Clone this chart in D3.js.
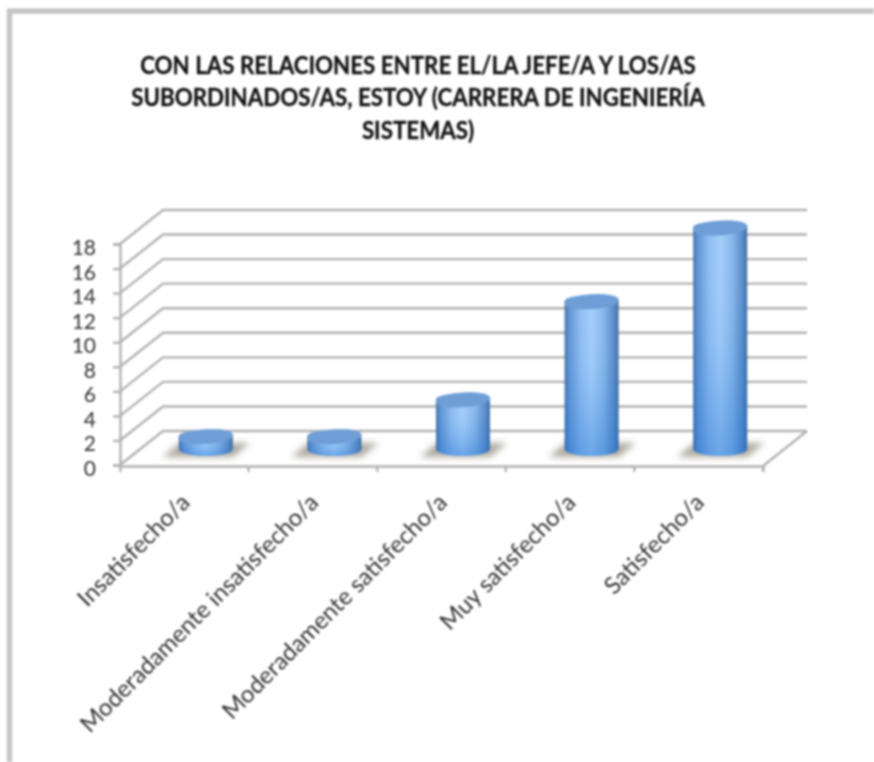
<!DOCTYPE html>
<html><head><meta charset="utf-8">
<script src="https://cdn.jsdelivr.net/npm/d3@7"></script>
<style>
html,body{margin:0;padding:0;background:#fff;overflow:hidden}
svg{display:block;filter:blur(0.8px)}
text{font-family:Lato,"Open Sans",sans-serif}
</style></head><body>
<svg id="c" width="874" height="762"></svg>
<script>
const categories = ["Insatisfecho/a","Moderadamente insatisfecho/a","Moderadamente satisfecho/a","Muy satisfecho/a","Satisfecho/a"];
const values = [1,1,4,12,18];
const yTicks = [0,2,4,6,8,10,12,14,16,18];
const titleLines = ["CON LAS RELACIONES ENTRE EL/LA JEFE/A Y LOS/AS","SUBORDINADOS/AS, ESTOY (CARRERA DE INGENIERÍA","SISTEMAS)"];

const svg = d3.select("#c");
const x = d3.scaleBand().domain(categories).range([120,763]);
const y = d3.scaleLinear().domain([0,18]).range([465,244]);
const depthX = 43, depthY = -34;
const grid = "#b2b2b2";

// Outer frame
svg.append("path").attr("d","M9.5,762V11H874").attr("fill","none").attr("stroke","#c6c6c6").attr("stroke-width",5.5);

// Title
svg.append("g").selectAll("text").data(titleLines).join("text")
  .attr("x",418).attr("y",(d,i)=>74+i*32.5)
  .attr("text-anchor","middle").attr("font-size",24).attr("font-weight",700).attr("fill","#111")
  .attr("stroke","#111").attr("stroke-width",.3)
  .attr("transform-origin","418 0").attr("style","transform:scaleX(.93)")
  .text(d=>d);

// Defs
const defs = svg.append("defs");
const side = defs.append("linearGradient").attr("id","side").attr("x1",0).attr("x2",1).attr("y1",0).attr("y2",0);
[[0,"#3f6fa6"],[.08,"#5f93d3"],[.3,"#8fbdf2"],[.5,"#a3cefb"],[.72,"#86b6ec"],[.92,"#5688c6"],[1,"#3d6c9f"]]
  .forEach(s=>side.append("stop").attr("offset",s[0]).attr("stop-color",s[1]));
const shade = defs.append("linearGradient").attr("id","shade").attr("x1",0).attr("x2",0).attr("y1",0).attr("y2",1);
[[0,"#ffffff",0],[.55,"#2f7fd6",.1],[1,"#1f6fce",.42]]
  .forEach(s=>shade.append("stop").attr("offset",s[0]).attr("stop-color",s[1]).attr("stop-opacity",s[2]));
defs.append("filter").attr("id","soft").attr("x","-30%").attr("y","-80%").attr("width","160%").attr("height","260%")
  .append("feGaussianBlur").attr("stdDeviation",3);

// Walls: gridlines on left wall + back wall
const gridG = svg.append("g").attr("fill","none").attr("stroke",grid).attr("stroke-width",2.4);
gridG.selectAll("path").data(yTicks).join("path")
  .attr("d",d=>{
    const p = d3.path();
    p.moveTo(x.range()[0],y(d));
    p.lineTo(x.range()[0]+depthX,y(d)+depthY);
    p.lineTo(x.range()[1]+depthX+1,y(d)+depthY);
    return p.toString();
  });
// Floor right edge
gridG.append("path").attr("class","edge").attr("d",()=>{
  const p = d3.path();
  p.moveTo(x.range()[1],y(0)+1);
  p.lineTo(x.range()[1]+depthX+1,y(0)+depthY);
  return p.toString();
});

// Axes
const yAxis = d3.axisLeft(y).tickValues(yTicks).tickSize(7).tickPadding(17);
const gy = svg.append("g").attr("transform",`translate(${x.range()[0]},0)`).call(yAxis);
gy.select(".domain").attr("stroke",grid).attr("stroke-width",2.4);
gy.selectAll(".tick line").attr("stroke",grid).attr("stroke-width",2.4);
gy.selectAll(".tick text").attr("font-size",21).attr("font-family","Lato").attr("fill","#333").attr("dy","0.5em");

const xAxis = d3.axisBottom(x).tickSize(6).tickSizeOuter(6).tickFormat("");
const gx = svg.append("g").attr("transform",`translate(0,${y(0)+1})`).call(xAxis);
gx.select(".domain").attr("stroke",grid).attr("stroke-width",2.4);
gx.selectAll(".tick line").attr("stroke",grid).attr("stroke-width",2.4)
  .attr("transform",function(){return `translate(${x.bandwidth()/2},0)`});

// Category labels
svg.append("g").selectAll("text").data(categories).join("text")
  .attr("transform",d=>`translate(${x(d)+x.bandwidth()/2+7},${y(0)+39}) rotate(-45)`)
  .attr("text-anchor","end").attr("font-size",23.8).attr("fill","#333")
  .text(d=>d);

// Cylinders
const rx = 27, ry = 7;
const cx = d=>x(d)+x.bandwidth()/2+depthX/2;
const base = y(0)+depthY/2+1;
const topY = v=>base-(y(0)-y(v));
const bars = svg.append("g").selectAll("g").data(categories).join("g");
bars.append("path").attr("filter","url(#soft)").attr("fill","#9a9488").attr("opacity",.8)
  .attr("d",d=>{
    const c=cx(d), b=base;
    return `M${c-43},${b+8}L${c-26},${b-6}H${c+44}L${c+27},${b+8}Z`;
  });
const cyl = (d,i)=>{
  const c=cx(d), t=topY(values[i]), b=base;
  return `M${c-rx},${t}V${b}A${rx},${ry} 0 0 0 ${c+rx},${b}V${t}A${rx},${ry} 0 0 0 ${c-rx},${t}Z`;
};
bars.append("path").attr("fill","url(#side)").attr("d",cyl);
bars.append("path").attr("fill","url(#shade)").attr("d",cyl);
bars.append("ellipse").attr("fill","#6f9ed6").attr("stroke","#6f9ed6").attr("stroke-width",.8)
  .attr("cx",cx).attr("cy",(d,i)=>topY(values[i]))
  .attr("rx",rx).attr("ry",ry)
  .attr("transform",(d,i)=>`rotate(-4 ${cx(d)} ${topY(values[i])})`);
</script>
</body></html>
